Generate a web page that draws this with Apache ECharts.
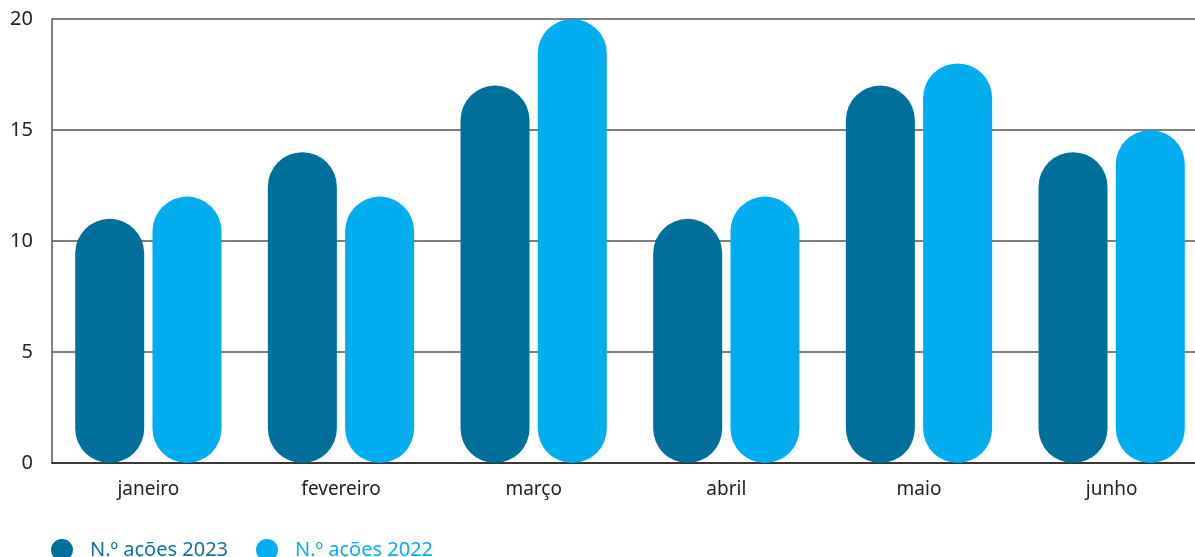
<!DOCTYPE html>
<html>
<head>
<meta charset="utf-8">
<script src="https://cdn.jsdelivr.net/npm/echarts@6/dist/echarts.min.js"></script>
<style>html,body{margin:0;padding:0;background:#fff;overflow:hidden;width:1195px;height:557px}#c{width:1208px;height:557px}</style>
</head>
<body>
<div id="c"></div>
<script>
const categories = ['janeiro','fevereiro','março','abril','maio','junho'];
const acoes2023 = [11, 14, 17, 11, 17, 14];
const acoes2022 = [12, 12, 20, 12, 18, 15];
const yTicks = [0, 5, 10, 15, 20];

const chart = echarts.init(document.getElementById('c'));
const font = '"Noto Sans", "Open Sans", sans-serif';
chart.setOption({
  animation: false,
  textStyle: { fontFamily: font },
  grid: { left: 52, right: 0, top: 19, bottom: 94 },
  legend: {
    left: 46, top: 534,
    itemWidth: 22, itemHeight: 22, itemGap: 28,
    icon: 'circle',
    data: [
      { name: 'N.º ações 2023', textStyle: { color: '#0e729c' } },
      { name: 'N.º ações 2022', textStyle: { color: '#0aaeea' } }
    ],
    textStyle: { fontSize: 20, fontFamily: font, padding: [0, 0, 0, 12] }
  },
  xAxis: {
    type: 'category', data: categories,
    axisLine: { lineStyle: { color: '#222', width: 1.5 } },
    axisTick: { show: false },
    axisLabel: { color: '#222', fontSize: 19, margin: 17 }
  },
  yAxis: {
    type: 'value', min: yTicks[0], max: yTicks[yTicks.length - 1], interval: 5,
    axisLine: { show: true, lineStyle: { color: '#555', width: 1.5 } },
    axisTick: { show: false },
    splitLine: { lineStyle: { color: '#555', width: 1.5 } },
    axisLabel: { color: '#222', fontSize: 20, margin: 19 }
  },
  series: [
    { name: 'N.º ações 2023', type: 'bar', data: acoes2023, barWidth: 69, barGap: '12%',
      itemStyle: { color: '#00709b', borderRadius: 34.5 } },
    { name: 'N.º ações 2022', type: 'bar', data: acoes2022, barWidth: 69,
      itemStyle: { color: '#00aeef', borderRadius: 34.5 } }
  ]
});
</script>
</body>
</html>
